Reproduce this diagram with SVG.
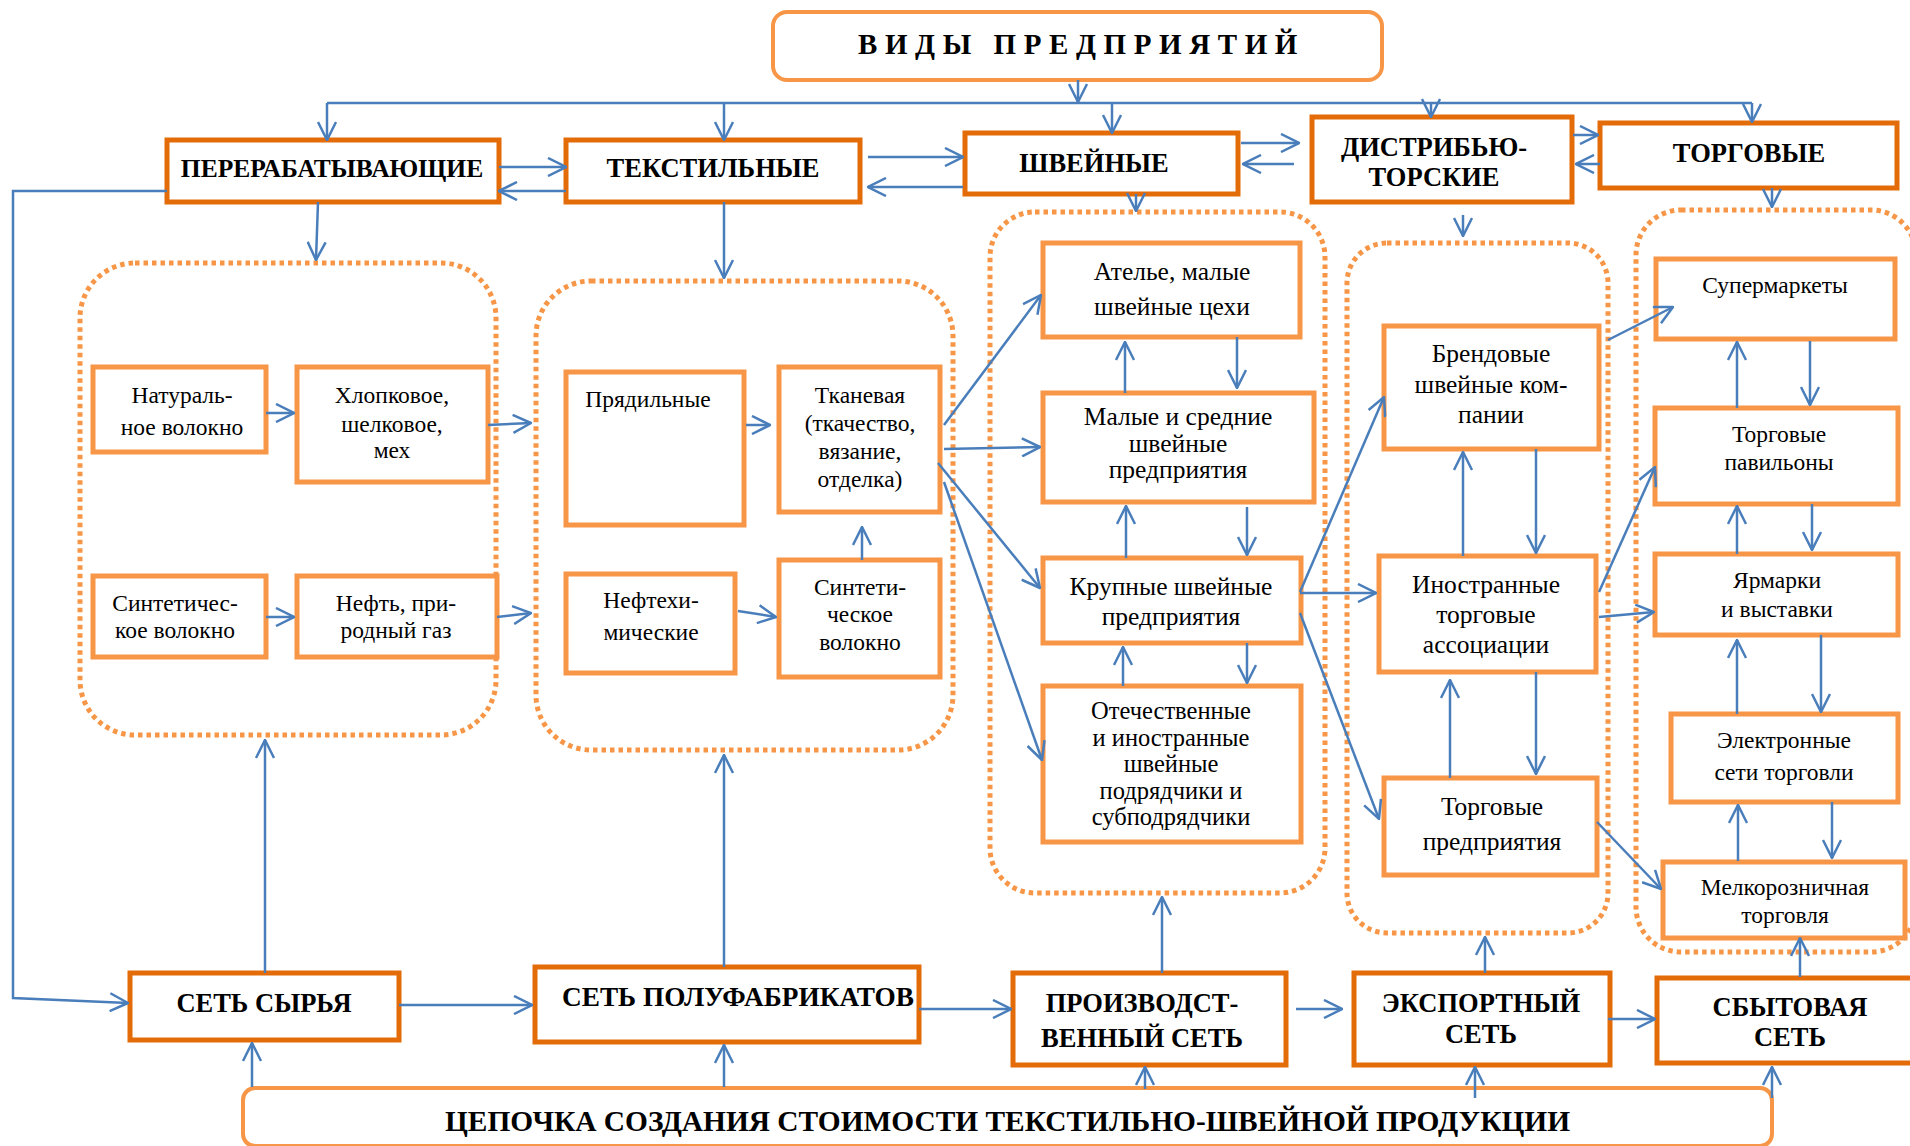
<svg xmlns="http://www.w3.org/2000/svg" width="1910" height="1146" viewBox="0 0 1910 1146">
<style>
.bg{fill:#ffffff}
.dark{fill:#ffffff;stroke:#E36C09;stroke-width:5}
.light{fill:#ffffff;stroke:#F79646;stroke-width:5}
.round{fill:#ffffff;stroke:#F79646;stroke-width:4}
.grp{fill:none;stroke:#F79646;stroke-width:5;stroke-dasharray:4.5 4}
.c{fill:none;stroke:#4A7EBB;stroke-width:2.5;marker-end:url(#ah)}
.ln{fill:none;stroke:#4A7EBB;stroke-width:2.5}
text{font-family:"Liberation Serif","Times New Roman",serif;fill:#000000;text-anchor:middle}
.hb{font-weight:bold;font-size:26.5px}
.t1{font-size:23.5px}
.t2{font-size:25.5px}
.t3{font-size:24.5px}
</style>
<defs>
<marker id="ah" viewBox="0 0 20 20" refX="19" refY="10" markerWidth="20" markerHeight="20" markerUnits="userSpaceOnUse" orient="auto">
<path d="M1,1 L19,10 L1,19" fill="none" stroke="#4A7EBB" stroke-width="2.5"/>
</marker>
</defs>
<rect class="bg" x="0" y="0" width="1910" height="1146"/>

<g id="groups">
<rect id="grp-pererab" class="grp" x="80" y="263" width="416" height="472" rx="55"/>
<rect id="grp-tekstil" class="grp" x="536" y="281" width="417" height="469" rx="55"/>
<rect id="grp-shvein" class="grp" x="990" y="212" width="335" height="681" rx="45"/>
<rect id="grp-distrib" class="grp" x="1347" y="243" width="261" height="690" rx="40"/>
<rect id="grp-torg" class="grp" x="1636" y="210" width="280" height="742" rx="45"/>
</g>

<g id="n-title">
<rect class="round" x="773" y="12" width="609" height="68" rx="14"/>
<text x="858" y="54" style="font-weight:bold;font-size:29px;letter-spacing:7.6px;text-anchor:start">ВИДЫ ПРЕДПРИЯТИЙ</text>
</g>

<g id="n-pererab">
<rect class="dark" x="167" y="140" width="332" height="62"/>
<text class="hb" x="332" y="177" style="font-size:25.5px">ПЕРЕРАБАТЫВАЮЩИЕ</text>
</g>
<g id="n-tekstil">
<rect class="dark" x="566" y="140" width="294" height="62"/>
<text class="hb" x="713" y="177">ТЕКСТИЛЬНЫЕ</text>
</g>
<g id="n-shvein">
<rect class="dark" x="965" y="133" width="273" height="61"/>
<text class="hb" x="1094" y="172">ШВЕЙНЫЕ</text>
</g>
<g id="n-distrib">
<rect class="dark" x="1312" y="117" width="260" height="85"/>
<text class="hb" x="1434" y="156">ДИСТРИБЬЮ-</text>
<text class="hb" x="1434" y="186">ТОРСКИЕ</text>
</g>
<g id="n-torg">
<rect class="dark" x="1600" y="123" width="297" height="65"/>
<text class="hb" x="1749" y="162">ТОРГОВЫЕ</text>
</g>

<g id="n-natur">
<rect class="light" x="93" y="367" width="173" height="85"/>
<text class="t1" x="182" y="403">Натураль-</text>
<text class="t1" x="182" y="435">ное волокно</text>
</g>
<g id="n-hlop">
<rect class="light" x="297" y="367" width="191" height="115"/>
<text class="t1" x="392" y="403">Хлопковое,</text>
<text class="t1" x="392" y="432">шелковое,</text>
<text class="t1" x="392" y="458">мех</text>
</g>
<g id="n-sintvol">
<rect class="light" x="93" y="576" width="173" height="81"/>
<text class="t1" x="175" y="611">Синтетичес-</text>
<text class="t1" x="175" y="638">кое волокно</text>
</g>
<g id="n-neft">
<rect class="light" x="297" y="576" width="200" height="81"/>
<text class="t1" x="396" y="611">Нефть, при-</text>
<text class="t1" x="396" y="638">родный газ</text>
</g>

<g id="n-pryad">
<rect class="light" x="566" y="372" width="178" height="153"/>
<text class="t1" x="648" y="407">Прядильные</text>
</g>
<g id="n-tkan">
<rect class="light" x="779" y="367" width="161" height="145"/>
<text class="t1" x="860" y="403">Тканевая</text>
<text class="t1" x="860" y="431">(ткачество,</text>
<text class="t1" x="860" y="459">вязание,</text>
<text class="t1" x="860" y="487">отделка)</text>
</g>
<g id="n-neftehim">
<rect class="light" x="566" y="574" width="169" height="99"/>
<text class="t1" x="651" y="608">Нефтехи-</text>
<text class="t1" x="651" y="640">мические</text>
</g>
<g id="n-sintet">
<rect class="light" x="779" y="560" width="161" height="117"/>
<text class="t1" x="860" y="595">Синтети-</text>
<text class="t1" x="860" y="622">ческое</text>
<text class="t1" x="860" y="650">волокно</text>
</g>

<g id="n-atelie">
<rect class="light" x="1043" y="243" width="257" height="94"/>
<text class="t2" x="1172" y="280">Ателье, малые</text>
<text class="t2" x="1172" y="315">швейные цехи</text>
</g>
<g id="n-malye">
<rect class="light" x="1043" y="393" width="271" height="109"/>
<text class="t2" x="1178" y="425">Малые и средние</text>
<text class="t2" x="1178" y="452">швейные</text>
<text class="t2" x="1178" y="478">предприятия</text>
</g>
<g id="n-krupn">
<rect class="light" x="1043" y="558" width="258" height="85"/>
<text class="t2" x="1171" y="595">Крупные швейные</text>
<text class="t2" x="1171" y="625">предприятия</text>
</g>
<g id="n-otech">
<rect class="light" x="1043" y="686" width="258" height="156"/>
<text class="t3" x="1171" y="719">Отечественные</text>
<text class="t3" x="1171" y="745.5">и иностранные</text>
<text class="t3" x="1171" y="772">швейные</text>
<text class="t3" x="1171" y="798.5">подрядчики и</text>
<text class="t3" x="1171" y="825">субподрядчики</text>
</g>

<g id="n-brend">
<rect class="light" x="1384" y="326" width="215" height="123"/>
<text class="t2" x="1491" y="362">Брендовые</text>
<text class="t2" x="1491" y="393">швейные ком-</text>
<text class="t2" x="1491" y="423">пании</text>
</g>
<g id="n-inostr">
<rect class="light" x="1379" y="556" width="217" height="116"/>
<text class="t2" x="1486" y="593">Иностранные</text>
<text class="t2" x="1486" y="623">торговые</text>
<text class="t2" x="1486" y="653">ассоциации</text>
</g>
<g id="n-torgpred">
<rect class="light" x="1384" y="778" width="213" height="97"/>
<text class="t2" x="1492" y="815">Торговые</text>
<text class="t2" x="1492" y="850">предприятия</text>
</g>

<g id="n-super">
<rect class="light" x="1656" y="259" width="239" height="80"/>
<text class="t1" x="1775" y="293">Супермаркеты</text>
</g>
<g id="n-pavil">
<rect class="light" x="1655" y="408" width="243" height="96"/>
<text class="t1" x="1779" y="442">Торговые</text>
<text class="t1" x="1779" y="470">павильоны</text>
</g>
<g id="n-yarm">
<rect class="light" x="1655" y="554" width="243" height="81"/>
<text class="t1" x="1777" y="588">Ярмарки</text>
<text class="t1" x="1777" y="617">и выставки</text>
</g>
<g id="n-elektr">
<rect class="light" x="1671" y="714" width="227" height="88"/>
<text class="t1" x="1784" y="748">Электронные</text>
<text class="t1" x="1784" y="780">сети торговли</text>
</g>
<g id="n-melk">
<rect class="light" x="1663" y="862" width="242" height="76"/>
<text class="t1" x="1785" y="895">Мелкорозничная</text>
<text class="t1" x="1785" y="923">торговля</text>
</g>

<g id="n-syrie">
<rect class="dark" x="130" y="973" width="269" height="67"/>
<text class="hb" x="264" y="1012">СЕТЬ СЫРЬЯ</text>
</g>
<g id="n-polufab">
<rect class="dark" x="535" y="967" width="384" height="75"/>
<text class="hb" x="562" y="1006" style="text-anchor:start" textLength="352" lengthAdjust="spacingAndGlyphs">СЕТЬ ПОЛУФАБРИКАТОВ</text>
</g>
<g id="n-proizv">
<rect class="dark" x="1013" y="973" width="273" height="92"/>
<text class="hb" x="1142" y="1012">ПРОИЗВОДСТ-</text>
<text class="hb" x="1142" y="1047">ВЕННЫЙ СЕТЬ</text>
</g>
<g id="n-eksport">
<rect class="dark" x="1354" y="973" width="256" height="92"/>
<text class="hb" x="1481" y="1012">ЭКСПОРТНЫЙ</text>
<text class="hb" x="1481" y="1043">СЕТЬ</text>
</g>
<g id="n-sbyt">
<rect class="dark" x="1657" y="978" width="266" height="85"/>
<text class="hb" x="1790" y="1016">СБЫТОВАЯ</text>
<text class="hb" x="1790" y="1046">СЕТЬ</text>
</g>

<g id="n-chain">
<rect class="round" x="243" y="1088" width="1529" height="58" rx="12"/>
<text x="445" y="1131" style="font-weight:bold;font-size:29px;text-anchor:start" textLength="1125" lengthAdjust="spacingAndGlyphs">ЦЕПОЧКА СОЗДАНИЯ СТОИМОСТИ ТЕКСТИЛЬНО-ШВЕЙНОЙ ПРОДУКЦИИ</text>
</g>

<g id="connectors">
<path class="c" d="M1078,80 V102"/>
<path class="ln" d="M327,103 H1752"/>
<path class="c" d="M327,103 V140"/>
<path class="c" d="M724,103 V140"/>
<path class="c" d="M1112,103 V133"/>
<path class="c" d="M1431,103 V117"/>
<path class="c" d="M1752,103 V122"/>

<path class="c" d="M499,167 H566"/>
<path class="c" d="M566,191 H499"/>
<path class="c" d="M868,157 H963"/>
<path class="c" d="M963,187 H868"/>
<path class="c" d="M1241,143 H1299"/>
<path class="c" d="M1294,164 H1243"/>
<path class="c" d="M1573,135 H1598"/>
<path class="c" d="M1600,164 H1576"/>

<path class="c" d="M318,202 L316,260"/>
<path class="c" d="M724,202 V278"/>
<path class="c" d="M1136,194 V211"/>
<path class="c" d="M1463,215 V236"/>
<path class="c" d="M1772,188 V207"/>

<path class="c" d="M266,413 H294"/>
<path class="c" d="M266,617 H294"/>
<path class="c" d="M488,425 L531,423"/>
<path class="c" d="M497,617 L531,613"/>

<path class="c" d="M746,425 H770"/>
<path class="c" d="M738,611 L776,617"/>
<path class="c" d="M862,560 V527"/>

<path class="c" d="M944,425 L1041,295"/>
<path class="c" d="M944,449 L1040,447"/>
<path class="c" d="M938,463 L1040,588"/>
<path class="c" d="M944,482 L1042,760"/>

<path class="c" d="M1125,393 V342"/>
<path class="c" d="M1237,337 V388"/>
<path class="c" d="M1126,558 V506"/>
<path class="c" d="M1247,507 V555"/>
<path class="c" d="M1123,686 V647"/>
<path class="c" d="M1247,643 V683"/>

<path class="c" d="M1300,592 L1384,397"/>
<path class="c" d="M1300,593 H1376"/>
<path class="c" d="M1300,613 L1379,819"/>

<path class="c" d="M1463,556 V452"/>
<path class="c" d="M1536,449 V553"/>
<path class="c" d="M1450,778 V680"/>
<path class="c" d="M1536,672 V774"/>

<path class="c" d="M1608,340 L1673,307"/>
<path class="c" d="M1599,592 L1655,467"/>
<path class="c" d="M1599,617 L1654,612"/>
<path class="c" d="M1597,822 L1661,889"/>

<path class="c" d="M1737,408 V342"/>
<path class="c" d="M1810,341 V405"/>
<path class="c" d="M1737,554 V506"/>
<path class="c" d="M1812,504 V550"/>
<path class="c" d="M1737,714 V640"/>
<path class="c" d="M1821,635 V712"/>
<path class="c" d="M1738,861 V805"/>
<path class="c" d="M1832,802 V858"/>

<path class="c" d="M167,191 H13 V998 L128,1003"/>
<path class="c" d="M399,1005 H532"/>
<path class="c" d="M919,1009 H1011"/>
<path class="c" d="M1296,1009 H1342"/>
<path class="c" d="M1608,1019 H1655"/>
<path class="c" d="M265,973 V740"/>
<path class="c" d="M724,967 V755"/>
<path class="c" d="M1162,973 V897"/>
<path class="c" d="M1485,973 V937"/>
<path class="c" d="M1800,977 V938"/>
<path class="c" d="M252,1087 V1043"/>
<path class="c" d="M724,1087 V1045"/>
<path class="c" d="M1145,1089 V1067"/>
<path class="c" d="M1475,1098 V1067"/>
<path class="c" d="M1772,1098 V1067"/>
</g>
</svg>
